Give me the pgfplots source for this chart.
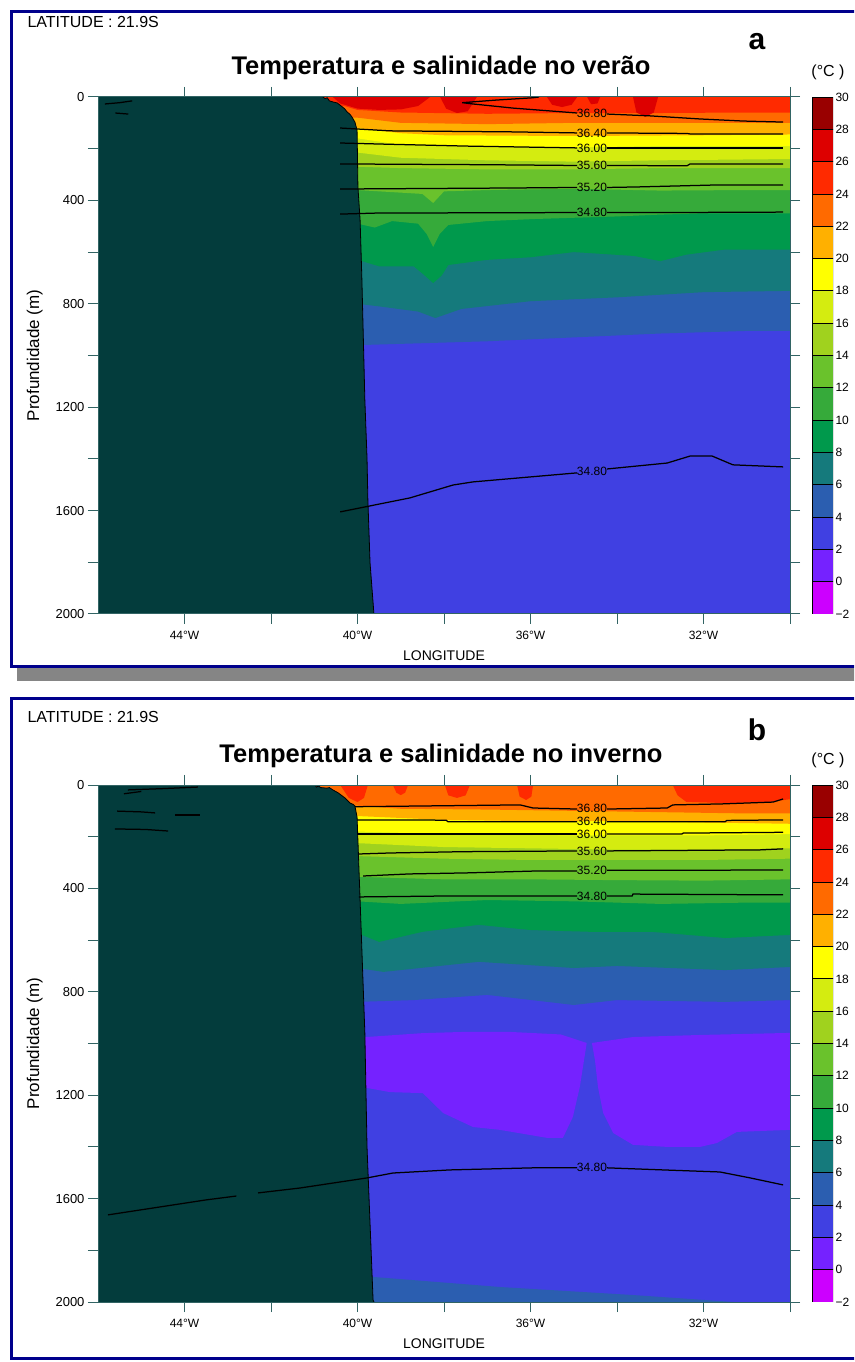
\documentclass[border=0pt]{standalone}
\usepackage{pgfplots}
\pgfplotsset{compat=1.18}
\usepackage{fontspec}
\setmainfont{Liberation Sans}

\definecolor{land}{RGB}{3,60,60}
\definecolor{axc}{RGB}{50,100,100}
\definecolor{navyf}{RGB}{0,0,140}
\definecolor{cA}{RGB}{204,0,255}
\definecolor{cB}{RGB}{117,34,255}
\definecolor{cC}{RGB}{64,64,226}
\definecolor{cD}{RGB}{43,94,176}
\definecolor{cE}{RGB}{21,122,124}
\definecolor{cF}{RGB}{0,153,76}
\definecolor{cG}{RGB}{54,170,58}
\definecolor{cH}{RGB}{106,194,44}
\definecolor{cI}{RGB}{160,210,30}
\definecolor{cJ}{RGB}{212,236,16}
\definecolor{cK}{RGB}{255,255,0}
\definecolor{cL}{RGB}{255,176,0}
\definecolor{cM}{RGB}{255,106,0}
\definecolor{cN}{RGB}{255,42,0}
\definecolor{cO}{RGB}{221,0,0}
\definecolor{cP}{RGB}{153,0,0}

\pgfplotsset{
 sect/.style={scale only axis, width=692pt, height=517pt, anchor=south west,
  xmin=-46, xmax=-30, ymin=0, ymax=2000, y dir=reverse, axis on top,
  tick align=outside, major tick length=10pt,
  xtick={-44,-42,...,-30}, xticklabels={44°W,,40°W,,36°W,,32°W,},
  ytick={0,200,...,2000}, yticklabels={0,,400,,800,,1200,,1600,,2000},
  axis line style={axc, line width=1pt}, tick style={axc, line width=1pt},
  xticklabel style={font=\fontsize{12}{14}\selectfont},
  yticklabel style={font=\fontsize{13}{15}\selectfont},
  xticklabel shift=4pt, xlabel shift=4pt, ylabel shift=6pt,
  xlabel={LONGITUDE}, ylabel={Profundidade (m)},
  xlabel style={font=\fontsize{14}{16}\selectfont},
  ylabel style={font=\fontsize{17}{19}\selectfont}},
 cbar/.style={scale only axis, width=21pt, height=517pt, anchor=south west,
  xmin=0, xmax=1, ymin=-2, ymax=30, xtick=\empty, ytick={-2,0,...,30},
  yticklabels={−2,0,2,4,6,8,10,12,14,16,18,20,22,24,26,28,30},
  yticklabel pos=right, axis line style={draw=none}, major tick length=0pt,
  yticklabel style={font=\fontsize{12}{14}\selectfont, xshift=-1pt}},
 sal/.style={black, line width=1.25pt},
}
\tikzset{lab/.style={font=\fontsize{12}{13}\selectfont, inner sep=0pt}}
\newcommand{\layer}[2]{\addplot[fill=#1, draw=none] coordinates {(-46,0) #2 (-30,0)} -- cycle;}
\newcommand{\blob}[2]{\addplot[fill=#1, draw=none] coordinates {#2} -- cycle;}
\newcommand{\cell}[3]{\addplot[fill=#1, draw=black, line width=0.8pt] coordinates {(0,#2) (1,#2) (1,#3) (0,#3)} -- cycle;}
\newcommand{\colorbarcells}{%
 \cell{cA}{-2}{0}\cell{cB}{0}{2}\cell{cC}{2}{4}\cell{cD}{4}{6}\cell{cE}{6}{8}\cell{cF}{8}{10}\cell{cG}{10}{12}\cell{cH}{12}{14}%
 \cell{cI}{14}{16}\cell{cJ}{16}{18}\cell{cK}{18}{20}\cell{cL}{20}{22}\cell{cM}{22}{24}\cell{cN}{24}{26}\cell{cO}{26}{28}\cell{cP}{28}{30}}

\begin{document}
\begin{tikzpicture}[x=1pt,y=1pt]
\clip (0,0) rectangle (854,1362);
\fill[white] (0,0) rectangle (854,1362);
% frames
\fill[black!48] (17,681) rectangle (880,694);
\draw[navyf, line width=3pt] (11.5,695.5) rectangle (880,1350.5);
\draw[navyf, line width=3pt] (11.5,3.5) rectangle (880,663.5);

% ---------------- panel a ----------------
\node[anchor=west, font=\fontsize{16}{18}\selectfont] at (24,1340) {LATITUDE : 21.9S};
\node[font=\bfseries\fontsize{30}{32}\selectfont] at (757,1320) {a};
\node[font=\bfseries\fontsize{25.5}{28}\selectfont] at (441,1294) {Temperatura e salinidade no verão};
\node[font=\fontsize{16}{18}\selectfont] at (828,1290) {(°C )};

\begin{axis}[sect, at={(98pt,748pt)}]
\blob{cC}{(-46,0) (-30,0) (-30,2000) (-46,2000)}
\layer{cD}{(-46,960) (-40,960) (-39,955) (-37,945) (-35,930) (-33,915) (-31,905) (-30,905)}
\layer{cE}{(-46,800) (-40,800) (-39.5,810) (-38.6,830) (-38.2,855) (-37.6,820) (-36,790) (-34,775) (-32,755) (-30,750)}
\layer{cF}{(-46,630) (-40,630) (-39.5,655) (-38.7,655) (-38.45,690) (-38.25,720) (-38.05,690) (-37.9,650) (-37,630) (-36,620) (-35,600) (-33.6,615) (-33,635) (-32.4,610) (-31.5,590) (-30,590)}
\layer{cG}{(-46,490) (-40,490) (-39.6,505) (-39.2,480) (-38.6,490) (-38.4,530) (-38.25,580) (-38.1,530) (-37.9,495) (-37,480) (-35.9,472) (-34,462) (-33,455) (-32,450) (-30,450)}
\layer{cH}{(-46,360) (-40,360) (-39,370) (-38.5,375) (-38.25,410) (-38,365) (-37,360) (-35,355) (-33,362) (-31,360) (-30,360)}
\layer{cI}{(-46,270) (-40,270) (-39,275) (-37,280) (-35,280) (-33,275) (-30,275)}
\layer{cJ}{(-46,215) (-40,215) (-39,235) (-37,245) (-35,250) (-33,245) (-30,240)}
\layer{cK}{(-46,160) (-40,160) (-39,185) (-37,195) (-35,195) (-33,190) (-30,190)}
\layer{cL}{(-46,120) (-40,120) (-39,140) (-38,148) (-36,150) (-34,150) (-32,148) (-30,145)}
\layer{cM}{(-46,75) (-40,80) (-39,100) (-37,105) (-35,100) (-33,100) (-30,100)}
\layer{cN}{(-46,35) (-40.3,35) (-40,50) (-39,60) (-37,65) (-35,62) (-33,62) (-31,60) (-30,60)}
\blob{cO}{(-40.57,0) (-40.4,25) (-40.0,45) (-39.5,50) (-39.0,48) (-38.6,35) (-38.32,0)}
\blob{cO}{(-38.09,0) (-37.95,45) (-37.7,62) (-37.45,55) (-37.24,0)}
\blob{cO}{(-35.62,0) (-35.5,30) (-35.27,39) (-35.05,30) (-34.92,0)}
\blob{cO}{(-34.69,0) (-34.6,28) (-34.45,25) (-34.39,0)}
\blob{cO}{(-33.63,0) (-33.55,60) (-33.35,77) (-33.15,60) (-33.05,0)}
% land
\blob{land}{(-46,0) (-40.80,0) (-40.75,6) (-40.70,3) (-40.65,15) (-40.55,20) (-40.47,23) (-40.4,32) (-40.3,45) (-40.24,58) (-40.18,66) (-40.13,77) (-40.06,97) (-40.01,128) (-39.99,348) (-39.94,476) (-39.90,696) (-39.83,1172) (-39.78,1396) (-39.76,1559) (-39.71,1802) (-39.62,2000) (-46,2000)}
\addplot[black, line width=0.8pt] coordinates {(-40.80,0) (-40.75,6) (-40.70,3) (-40.65,15) (-40.55,20) (-40.47,23) (-40.4,32) (-40.3,45) (-40.24,58) (-40.18,66) (-40.13,77) (-40.06,97) (-40.01,128) (-39.99,348) (-39.94,476) (-39.90,696) (-39.83,1172) (-39.78,1396) (-39.76,1559) (-39.71,1802) (-39.62,2000)};
% salinity
\addplot[sal] coordinates {(-35.8,0) (-35.94,3) (-36.8,12) (-37.58,22) (-37.33,27) (-36.40,43) (-34.92,62)};
\addplot[sal] coordinates {(-34.23,66) (-33.24,73) (-32.08,85) (-31.09,93) (-30.16,97)};
\addplot[sal] coordinates {(-40.40,120) (-39.25,131) (-36.40,135) (-34.92,139)};
\addplot[sal] coordinates {(-34.23,139) (-32.38,141) (-32.31,143) (-30.16,143)};
\addplot[sal] coordinates {(-40.40,178) (-39.48,182) (-37.47,190) (-34.92,197)};
\addplot[sal] coordinates {(-34.23,197) (-30.16,197)};
\addplot[sal] coordinates {(-40.40,259) (-37,262) (-34.92,265)};
\addplot[sal] coordinates {(-34.23,265) (-32.38,266) (-32.31,259) (-30.16,259)};
\addplot[sal] coordinates {(-40.40,356) (-36.40,352) (-34.92,350)};
\addplot[sal] coordinates {(-34.23,350) (-33.54,348) (-31.62,340) (-30.16,340)};
\addplot[sal] coordinates {(-40.40,453) (-39.55,449) (-34.92,447)};
\addplot[sal] coordinates {(-34.23,447) (-30.6,446) (-30.16,445)};
\addplot[sal] coordinates {(-40.40,1605) (-38.79,1551) (-37.79,1501) (-37.33,1489) (-34.92,1454)};
\addplot[sal] coordinates {(-34.23,1439) (-32.84,1416) (-32.31,1389) (-31.80,1389) (-31.32,1423) (-30.16,1431)};
\addplot[sal] coordinates {(-45.84,27) (-45.5,22) (-45.21,15)};
\addplot[sal] coordinates {(-45.6,62) (-45.3,66)};
\node[lab] at (axis cs:-34.58,64) {36.80};
\node[lab] at (axis cs:-34.58,139) {36.40};
\node[lab] at (axis cs:-34.58,197) {36.00};
\node[lab] at (axis cs:-34.58,265) {35.60};
\node[lab] at (axis cs:-34.58,350) {35.20};
\node[lab] at (axis cs:-34.58,447) {34.80};
\node[lab] at (axis cs:-34.58,1447) {34.80};
\end{axis}
\begin{axis}[cbar, at={(812pt,748pt)}]
\colorbarcells
\end{axis}

% ---------------- panel b ----------------
\node[anchor=west, font=\fontsize{16}{18}\selectfont] at (24,645) {LATITUDE : 21.9S};
\node[font=\bfseries\fontsize{30}{32}\selectfont] at (757,632) {b};
\node[font=\bfseries\fontsize{25.5}{28}\selectfont] at (441,606) {Temperatura e salinidade no inverno};
\node[font=\fontsize{16}{18}\selectfont] at (828,602) {(°C )};

\begin{axis}[sect, at={(98pt,60pt)}]
\blob{cC}{(-46,0) (-30,0) (-30,2000) (-46,2000)}
\blob{cB}{(-40.2,975) (-39.8,975) (-38.5,960) (-37.5,955) (-36.5,955) (-35.3,965) (-34.7,998) (-34.86,1168) (-35.02,1284) (-35.25,1365) (-35.62,1365) (-36.71,1334) (-37.33,1323) (-38.02,1269) (-38.49,1192) (-39.25,1188) (-39.78,1172) (-40.2,1172)}
\blob{cB}{(-34.58,998) (-33.63,975) (-32.08,967) (-30,959) (-30,1334) (-31.23,1342) (-31.69,1385) (-32.08,1400) (-32.84,1400) (-33.63,1392) (-34.09,1346) (-34.32,1269) (-34.44,1168) (-34.51,1064)}
\blob{cD}{(-40,1895) (-39.64,1903) (-36.7,1942) (-33.63,1973) (-31.3,2000) (-40,2000)}
\layer{cD}{(-46,839) (-40,839) (-38.7,832) (-37,812) (-35,851) (-34,832) (-31.5,839) (-30,832)}
\layer{cE}{(-46,708) (-40,708) (-39.4,723) (-37.2,684) (-35,708) (-34,700) (-31.5,716) (-30,704)}
\layer{cF}{(-46,573) (-40,573) (-39.5,607) (-38.5,568) (-37.2,541) (-36,561) (-34.6,568) (-33.2,568) (-31.5,592) (-30,580)}
\layer{cG}{(-46,450) (-40,450) (-39,460) (-37,445) (-35,450) (-33,460) (-31,455) (-30,455)}
\layer{cH}{(-46,355) (-40,355) (-38,365) (-36,365) (-34,368) (-32,370) (-30,365)}
\layer{cI}{(-46,275) (-40,275) (-38,285) (-36,290) (-34,290) (-32,290) (-30,285)}
\layer{cJ}{(-46,225) (-40,225) (-38,240) (-36,245) (-34,250) (-32,250) (-30,245)}
\layer{cK}{(-46,180) (-40,180) (-38,190) (-35,195) (-32,195) (-30,190)}
\layer{cL}{(-46,120) (-40,120) (-38,135) (-36,140) (-34,140) (-32,145) (-30,150)}
\layer{cM}{(-46,80) (-40,80) (-39,92) (-37,95) (-35,100) (-33,105) (-31,110) (-30,110)}
\blob{cN}{(-40.4,0) (-40.2,50) (-40.0,66) (-39.85,50) (-39.76,0)}
\blob{cN}{(-39.18,0) (-39.1,30) (-39.0,39) (-38.9,30) (-38.83,0)}
\blob{cN}{(-37.98,0) (-37.9,40) (-37.7,50) (-37.5,40) (-37.40,0)}
\blob{cN}{(-36.31,0) (-36.25,45) (-36.1,58) (-35.98,45) (-35.94,0)}
\blob{cN}{(-32.71,0) (-32.6,40) (-32.4,65) (-31.5,70) (-30.5,66) (-30,55) (-30,0)}
% land
\blob{land}{(-46,0) (-40.98,0) (-40.95,8) (-40.9,4) (-40.85,10) (-40.71,12) (-40.65,10) (-40.57,19) (-40.45,30) (-40.29,50) (-40.17,70) (-40.10,75) (-40.06,81) (-40.01,124) (-39.94,445) (-39.83,959) (-39.78,1400) (-39.64,1992) (-39.62,2000) (-46,2000)}
\addplot[black, line width=0.8pt] coordinates {(-40.98,0) (-40.95,8) (-40.9,4) (-40.85,10) (-40.71,12) (-40.65,10) (-40.57,19) (-40.45,30) (-40.29,50) (-40.17,70) (-40.10,75) (-40.06,81) (-40.01,124) (-39.94,445) (-39.83,959) (-39.78,1400) (-39.64,1992) (-39.62,2000)};
% salinity
\addplot[sal] coordinates {(-40.06,84) (-36.24,77) (-35.94,89) (-34.92,93)};
\addplot[sal] coordinates {(-34.23,93) (-32.84,89) (-32.71,77) (-31.55,73) (-30.39,66) (-30.16,54)};
\addplot[sal] coordinates {(-40.01,135) (-37.95,136) (-37.91,142) (-34.92,142)};
\addplot[sal] coordinates {(-34.23,142) (-31.5,142) (-31.46,137) (-30.16,135)};
\addplot[sal] coordinates {(-40.01,190) (-34.92,190)};
\addplot[sal] coordinates {(-34.23,190) (-32.5,190) (-32.47,186) (-30.16,183)};
\addplot[sal] coordinates {(-39.99,267) (-39.25,263) (-37.58,258) (-34.92,255)};
\addplot[sal] coordinates {(-34.23,255) (-30.69,251) (-30.16,247)};
\addplot[sal] coordinates {(-39.87,352) (-38.79,344) (-37.47,340) (-35.94,333) (-34.92,333)};
\addplot[sal] coordinates {(-34.23,330) (-30.16,329)};
\addplot[sal] coordinates {(-39.97,433) (-37.75,429) (-34.92,429)};
\addplot[sal] coordinates {(-34.23,429) (-33.65,429) (-33.63,422) (-30.16,425)};
\addplot[sal] coordinates {(-45.77,1663) (-43.5,1605) (-42.8,1590)};
\addplot[sal] coordinates {(-42.3,1578) (-41.33,1559) (-39.78,1520) (-39.18,1501) (-37.86,1489) (-35.94,1481) (-34.92,1481)};
\addplot[sal] coordinates {(-34.23,1481) (-32.94,1489) (-31.62,1497) (-30.92,1520) (-30.16,1547)};
\addplot[sal] coordinates {(-45.31,19) (-44.5,14) (-43.69,8)};
\addplot[sal] coordinates {(-45.4,34) (-45.0,25)};
\addplot[sal] coordinates {(-45.56,101) (-45.0,104) (-44.68,108)};
\addplot[sal] coordinates {(-44.22,116) (-43.64,116)};
\addplot[sal] coordinates {(-45.61,170) (-44.9,172) (-44.38,178)};
\node[lab] at (axis cs:-34.58,91) {36.80};
\node[lab] at (axis cs:-34.58,142) {36.40};
\node[lab] at (axis cs:-34.58,190) {36.00};
\node[lab] at (axis cs:-34.58,255) {35.60};
\node[lab] at (axis cs:-34.58,331) {35.20};
\node[lab] at (axis cs:-34.58,429) {34.80};
\node[lab] at (axis cs:-34.58,1481) {34.80};
\end{axis}
\begin{axis}[cbar, at={(812pt,60pt)}]
\colorbarcells
\end{axis}
\end{tikzpicture}
\end{document}
